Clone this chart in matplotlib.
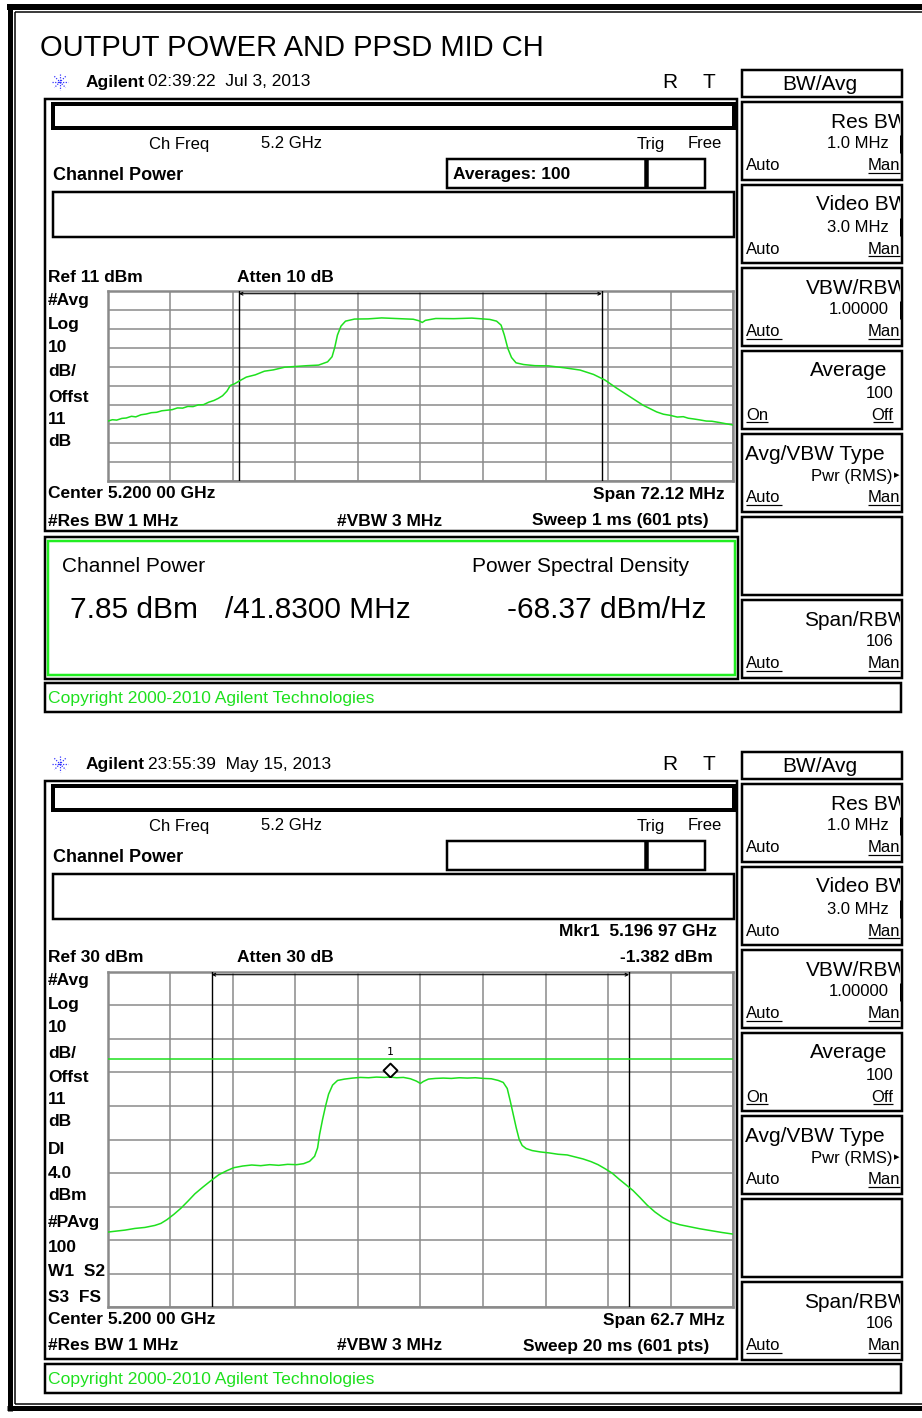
"""
Two Agilent channel power screens (mid channel): output power and PPSD.
Everything outside the two spectrum grids is drawn on a pixel-sized
background axes, the traces go on real axes (MHz offset vs dBm).
"""
import numpy as np
import matplotlib
matplotlib.use('Agg')
import matplotlib.pyplot as plt
from matplotlib.patches import Rectangle
from matplotlib.path import Path

W, H = 922, 1418
FONT = 'Liberation Sans'
GREEN = '#1ee01e'

# ---------------------------------------------------------------------------
# data read off the screens
# ---------------------------------------------------------------------------
chan_bw = 41.83          # MHz, integration bandwidth

# screen 1 : span 72.12 MHz, ref 11 dBm, 10 dB/div
span1 = 72.12
ref1 = 11.0
freq1 = [-36.06, -35.5, -35.0, -34.4, -33.9, -33.3, -32.8, -32.2, -31.6, -31.0,
         -30.4, -29.8, -29.2, -28.6, -28.0, -27.4, -26.8, -26.2, -25.6, -25.0,
         -24.4, -23.8, -23.3, -22.8, -22.3, -21.9, -21.4, -20.94, -20.06, -19.02,
         -17.98, -16.94, -15.64, -14.34, -13.04, -11.74, -10.70, -10.18, -9.87,
         -9.56, -9.15, -8.63, -7.59, -6.03, -4.47, -2.39, -0.83, -0.16, 0.21, 0.57,
         1.77, 3.85, 5.92, 8.00, 8.78, 9.30, 9.67, 10.08, 10.50, 11.02, 11.90,
         13.20, 14.76, 16.58, 18.40, 19.95, 21.25, 22.55, 24.11, 25.67, 27.23,
         28.0, 28.79, 29.6, 30.3, 30.86, 31.5, 32.2, 32.94, 33.6, 34.5, 35.2, 36.06]
level1 = [-57.6, -56.8, -57.0, -56.1, -55.9, -55.0, -55.3, -54.2, -53.8, -53.1,
          -52.9, -52.1, -51.8, -51.5, -50.6, -50.7, -49.8, -49.9, -49.0, -48.9,
          -47.6, -46.7, -45.6, -44.2, -41.8, -38.8, -37.9, -36.6, -34.4, -33.2,
          -31.3, -30.6, -29.2, -28.8, -28.4, -28.1, -26.4, -23.7, -18.8,
          -12.3, -7.6, -5.0, -3.9, -3.8, -3.3, -3.7, -4.0, -4.8, -5.7, -4.6,
          -3.6, -3.7, -3.4, -4.1, -5.0, -7.1, -12.3, -19.4, -24.1, -26.9, -27.8,
          -28.4, -28.5, -29.5, -30.7, -33.0, -35.9, -40.0, -44.6, -49.2, -52.7,
          -53.9, -54.5, -55.4, -55.2, -56.0, -56.4, -56.9, -57.5, -57.6, -58.3, -58.9, -59.6]

# screen 2 : span 62.7 MHz, ref 30 dBm, 10 dB/div, display line 4 dBm
span2 = 62.7
ref2 = 30.0
disp_line = 4.0
mkr_freq = -3.03         # 5.196 97 GHz - 5.2 GHz
mkr_level = -1.382
freq2 = [-31.35, -30.5, -29.6, -28.6, -27.6, -26.6, -26.0, -25.4, -24.7, -24.0,
         -23.3, -22.6, -21.8, -21.0, -20.2, -19.4, -18.7, -17.8, -16.9, -16.0,
         -15.1, -14.2, -13.3, -12.4, -11.7, -11.1, -10.6, -10.3, -10.1, -9.8,
         -9.5, -9.2, -8.8, -8.3, -7.6, -6.8, -6.0, -5.2, -4.4, -3.6, -3.03,
         -2.4, -1.7, -1.0, -0.4, 0.0, 0.3, 0.8, 1.5, 2.3, 3.1, 3.9, 4.7, 5.5,
         6.3, 7.1, 7.8, 8.3, 8.7, 9.0, 9.3, 9.6, 9.9, 10.2, 10.6, 11.2, 12.0,
         12.9, 13.8, 14.7, 15.5, 16.3, 17.1, 17.8, 18.5, 19.2, 19.9, 20.6, 21.3,
         22.0, 22.7, 23.5, 24.3, 25.1, 26.0, 27.0, 28.0, 29.0, 30.2, 31.35]
level2 = [-47.6, -47.3, -47.0, -46.5, -46.2, -45.6, -45.0, -43.9, -42.3, -40.5,
          -38.4, -36.2, -34.2, -32.3, -30.5, -29.3, -28.4, -27.9, -27.6, -27.8,
          -27.5, -27.7, -27.4, -27.5, -27.2, -26.5, -25.0, -22.5, -18.5, -14.0,
          -10.0, -6.5, -3.8, -2.4, -2.0, -1.7, -1.5, -1.6, -1.4, -1.5, -1.382,
          -1.6, -1.5, -1.9, -2.6, -3.3, -2.7, -2.0, -1.8, -1.7, -1.8, -1.6, -1.7,
          -1.6, -1.8, -1.9, -2.4, -3.0, -4.8, -8.5, -12.5, -16.5, -20.0, -21.8,
          -22.7, -23.3, -23.7, -24.0, -24.4, -24.6, -25.2, -25.8, -26.6, -27.5,
          -28.7, -30.0, -31.8, -33.5, -35.2, -37.3, -39.5, -41.6, -43.3, -44.6,
          -45.4, -46.0, -46.6, -47.1, -47.7, -48.2]

title = 'OUTPUT POWER AND PPSD MID CH'
stamps = ['02:39:22  Jul 3, 2013', '23:55:39  May 15, 2013']
left_labels1 = ['#Avg', 'Log', '10', 'dB/', 'Offst', '11', 'dB']
left_labels2 = ['#Avg', 'Log', '10', 'dB/', 'Offst', '11', 'dB', 'DI', '4.0',
                'dBm', '#PAvg', '100', 'W1  S2', 'S3  FS']

# ---------------------------------------------------------------------------
fig = plt.figure(figsize=(W / 100, H / 100), dpi=100)
bg = fig.add_axes([0, 0, 1, 1])
bg.set_xlim(0, W)
bg.set_ylim(H, 0)
bg.axis('off')


def pt(p):
    # pixel width -> points
    return p * 0.72


def box(x0, y0, x1, y1, lw=2.0, color='black'):
    bg.add_patch(Rectangle((x0, y0), x1 - x0, y1 - y0, fill=False,
                           lw=pt(lw), ec=color, joinstyle='miter'))


def line(xs, ys, lw=1.0, color='black', ls='-'):
    bg.plot(xs, ys, color=color, lw=pt(lw), ls=ls, solid_capstyle='butt')


def txt(x, y, s, size=12, bold=False, ha='left', color='black', clip=None):
    t = bg.text(x, y, s, fontsize=size, family=FONT, ha=ha, va='center',
                fontweight='bold' if bold else 'normal', color=color)
    if clip is not None:
        r = Rectangle((clip[0], clip[1]), clip[2] - clip[0], clip[3] - clip[1],
                      transform=bg.transData)
        t.set_clip_path(r)
        t.set_clip_on(True)
    return t


def logo(cx, cy):
    for a in np.arange(0, np.pi, np.pi / 4):
        dx, dy = 8 * np.cos(a), 8 * np.sin(a)
        line([cx - dx, cx + dx], [cy - dy, cy + dy], lw=1.2, color='#2a2aff', ls=(0, (1, 1.2)))


def softkeys(dy, avgtype_auto_ul):
    box(742, 70 + dy, 902, 97 + dy, lw=2.5)
    txt(820, 84 + dy, 'BW/Avg', size=15, ha='center')
    keys = [('Res BW', '1.0 MHz', ('Auto', False), ('Man', True), True),
            ('Video BW', '3.0 MHz', ('Auto', False), ('Man', True), True),
            ('VBW/RBW', '1.00000', ('Auto', True), ('Man', True), True),
            ('Average', '100', ('On', True), ('Off', True), False),
            ('Avg/VBW Type', 'Pwr (RMS)', ('Auto', avgtype_auto_ul), ('Man', True), False),
            (None, None, None, None, False),
            ('Span/RBW', '106', ('Auto', True), ('Man', True), False)]
    for i, (name, val, lo, hi, bar) in enumerate(keys):
        y0 = 102 + 83 * i + dy
        box(742, y0, 902, y0 + 78, lw=2.5)
        if name is None:
            continue
        clip = (743, y0, 900, y0 + 78)
        if name == 'Avg/VBW Type':
            txt(745, y0 + 20, name, size=15)
        elif name == 'Average':
            txt(887, y0 + 19, name, size=15, ha='right')
        else:
            txt(908, y0 + 20, name, size=15, ha='right', clip=clip)
        if name == 'Avg/VBW Type':
            txt(892, y0 + 43, val, size=12, ha='right')
            bg.text(897, y0 + 41, '\u25b8', fontsize=8, family='DejaVu Sans',
                    ha='center', va='center')
        elif name in ('Average', 'Span/RBW'):
            txt(893, y0 + 42, val, size=12, ha='right')
        else:
            txt(889, y0 + 42, val, size=12, ha='right')
        if bar:
            line([901, 901], [y0 + 33, y0 + 51], lw=3)
        # low / high option, underlined when active
        w_lo = {'Auto': 36, 'On': 22}[lo[0]]
        w_hi = {'Man': 32, 'Off': 20}[hi[0]]
        x_hi = 900 if hi[0] == 'Man' else 893
        txt(746, y0 + 64, lo[0], size=12)
        txt(x_hi, y0 + 64, hi[0], size=12, ha='right')
        if lo[1]:
            line([746, 746 + w_lo], [y0 + 71, y0 + 71], lw=1.2)
        if hi[1]:
            line([x_hi - w_hi, x_hi], [y0 + 71, y0 + 71], lw=1.2)


def header(dy, stamp, averages):
    logo(60, 82 + dy)
    txt(86, 82 + dy, 'Agilent', size=12.5, bold=True)
    txt(148, 82 + dy, stamp, size=12.5)
    txt(662, 82 + dy, 'R', size=15)
    txt(702, 82 + dy, 'T', size=15)
    box(44.5, 99 + dy, 737, 531 + dy if dy == 0 else 1359, lw=2.5)
    box(53, 104 + dy, 734, 128 + dy, lw=4)
    txt(149, 144 + dy, 'Ch Freq', size=12)
    txt(261, 144 + dy, '5.2 GHz', size=12)
    txt(637, 144 + dy, 'Trig', size=12)
    txt(688, 144 + dy, 'Free', size=12)
    txt(53, 175 + dy, 'Channel Power', size=13, bold=True)
    box(447, 159 + dy, 705, 188 + dy, lw=2.5)
    line([645.5, 645.5], [159 + dy, 188 + dy], lw=4.5)
    if averages:
        txt(453, 175 + dy, averages, size=12.5, bold=True)
    box(53, 192 + dy, 734, 237 + dy, lw=2.5)


def copyright_bar(y0, y1):
    box(44.5, y0, 901, y1, lw=2.5)
    txt(48, (y0 + y1) / 2 + 1, 'Copyright 2000-2010 Agilent Technologies', size=12.6, color=GREEN)


def spectrum(y0, y1, span, ref, freq, level):
    x0, x1 = 107.5, 733.3
    ax = fig.add_axes([x0 / W, 1 - y1 / H, (x1 - x0) / W, (y1 - y0) / H])
    ax.set_xlim(-span / 2, span / 2)
    ax.set_ylim(ref - 100, ref)
    ax.set_xticks(np.linspace(-span / 2, span / 2, 11))
    ax.set_yticks(np.linspace(ref - 100, ref, 11))
    ax.grid(True, color='#8a8a8a', lw=1.1)
    ax.tick_params(length=0, labelbottom=False, labelleft=False)
    for s in ax.spines.values():
        s.set_color('#8a8a8a')
        s.set_linewidth(1.8)
    ax.plot(freq, level, color=GREEN, lw=1.1, zorder=4)
    for f in (-chan_bw / 2, chan_bw / 2):
        ax.axvline(f, color='black', lw=1.0, zorder=3)
    top = 1 - 3.0 / (y1 - y0)
    ax.annotate('', xy=(-chan_bw / 2, top), xytext=(chan_bw / 2, top),
                xycoords=('data', 'axes fraction'), textcoords=('data', 'axes fraction'),
                arrowprops=dict(arrowstyle='<->', color='black', lw=0.8,
                                mutation_scale=5, shrinkA=0, shrinkB=0), zorder=3)
    return ax


# page border
line([7, W], [7, 7], lw=6)
line([9.5, 9.5], [4, 1411], lw=5)
line([7, W], [1408, 1408], lw=5)
line([15, W], [12, 12], lw=1.5)
line([15, 15], [12, 1404], lw=1.5)
line([15, W], [1403.5, 1403.5], lw=1.5)

txt(40, 48, title, size=21)

# ---------------- screen 1 ----------------
header(0, stamps[0], 'Averages: 100')
softkeys(0, True)
txt(48, 277, 'Ref 11 dBm', size=12.5, bold=True)
txt(237, 277, 'Atten 10 dB', size=12.5, bold=True)
for lab, yy in zip(left_labels1, [300, 324, 347, 372, 397, 420, 441]):
    txt(48, yy, lab, size=12.5, bold=True)
txt(48, 494, 'Center 5.200 00 GHz', size=12.5, bold=True)
txt(725, 494, 'Span 72.12 MHz', size=12.5, bold=True, ha='right')
txt(48, 521, '#Res BW 1 MHz', size=12.5, bold=True)
txt(337, 521, '#VBW 3 MHz', size=12.5, bold=True)
txt(709, 521, 'Sweep 1 ms (601 pts)', size=12.5, bold=True, ha='right')
spectrum(290.7, 481.0, span1, ref1, freq1, level1)

box(44.5, 537, 738, 679, lw=2.5)
box(47.5, 541, 735, 675, lw=2.5, color='#22ee22')
txt(62, 567, 'Channel Power', size=15)
txt(472, 567, 'Power Spectral Density', size=15)
txt(70, 610, '7.85 dBm', size=21.5)
txt(225, 610, '/41.8300 MHz', size=21.5)
txt(706, 610, '-68.37 dBm/Hz', size=21.5, ha='right')
copyright_bar(683, 712)

# ---------------- screen 2 ----------------
dy = 682
header(dy, stamps[1], None)
softkeys(dy, False)
txt(717, 932, 'Mkr1  5.196 97 GHz', size=12.5, bold=True, ha='right')
txt(48, 958, 'Ref 30 dBm', size=12.5, bold=True)
txt(237, 958, 'Atten 30 dB', size=12.5, bold=True)
txt(713, 958, '%.3f dBm' % mkr_level, size=12.5, bold=True, ha='right')
ys2 = [981, 1005, 1028, 1053, 1078, 1100, 1122, 1150, 1173, 1196, 1223, 1248, 1272, 1297]
for lab, yy in zip(left_labels2, ys2):
    txt(48, yy, lab, size=12.5, bold=True)
txt(48, 1320, 'Center 5.200 00 GHz', size=12.5, bold=True)
txt(725, 1320, 'Span 62.7 MHz', size=12.5, bold=True, ha='right')
txt(48, 1346, '#Res BW 1 MHz', size=12.5, bold=True)
txt(337, 1346, '#VBW 3 MHz', size=12.5, bold=True)
txt(709, 1346, 'Sweep 20 ms (601 pts)', size=12.5, bold=True, ha='right')
ax2 = spectrum(971.7, 1307.3, span2, ref2, freq2, level2)
ax2.axhline(disp_line, color=GREEN, lw=1.1, zorder=4)
diamond = Path([(0, 0), (1, 1), (0, 2), (-1, 1), (0, 0)])
ax2.plot([mkr_freq], [mkr_level], marker=diamond, ms=20, mfc='white', mec='black',
         mew=1.4, ls='none', zorder=6)
ax2.annotate('1', (mkr_freq, mkr_level), xytext=(0, 18), textcoords='offset points',
             ha='center', va='center', fontsize=8, family='DejaVu Sans Mono', zorder=6)
copyright_bar(1364, 1393)

fig.savefig('out.png', dpi=100)
